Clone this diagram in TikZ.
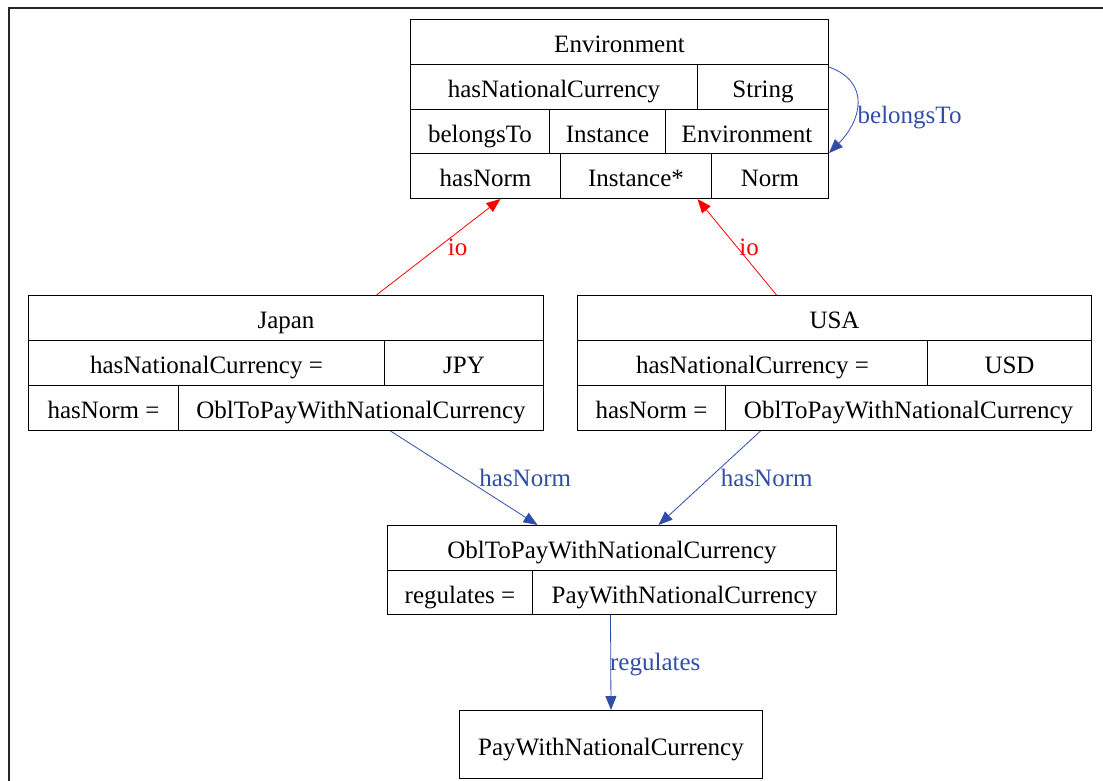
\documentclass[tikz,border=0pt]{standalone}
\usepackage{fontspec}
\setmainfont{Liberation Serif}
\usetikzlibrary{arrows.meta}
\definecolor{edgeblue}{RGB}{48,78,168}
\tikzset{
  cell/.style={draw, line width=1pt, rectangle, inner sep=0pt, anchor=north west,
    minimum height=#1, text height=22pt, text depth=1pt, font=\fontsize{25}{30}\selectfont},
  cell/.default=45pt,
  lbl/.style={font=\fontsize{25}{30}\selectfont, inner sep=1pt},
  ioedge/.style={red, line width=0.8pt, -{Triangle[length=14pt,width=11pt]}},
  reledge/.style={edgeblue, line width=0.8pt, -{Triangle[length=14pt,width=11pt]}}
}
\begin{document}
\begin{tikzpicture}[x=1pt,y=-1pt]
\useasboundingbox (0,0) rectangle (1103,780);
% Rahmen
\draw[line width=2pt, black!85] (9,8) rectangle (1120,800);
% Environment
\node[cell, minimum width=418pt] (envTitle) at (410,19) {Environment};
\node[cell, minimum width=287pt] (envCurKey) at (410,64) {hasNationalCurrency};
\node[cell, minimum width=131pt] (envCurType) at (697,64) {String};
\node[cell=44pt, minimum width=139pt] (envBelKey) at (410,109) {belongsTo};
\node[cell=44pt, minimum width=116pt] (envBelKind) at (549,109) {Instance};
\node[cell=44pt, minimum width=163pt] (envBelType) at (665,109) {Environment};
\node[cell, minimum width=150pt] (envNormKey) at (410,153) {hasNorm};
\node[cell, minimum width=151pt] (envNormKind) at (560,153) {Instance*};
\node[cell, minimum width=117pt] (envNormType) at (711,153) {Norm};
% Japan
\node[cell, minimum width=515pt] (jpTitle) at (28,295) {Japan};
\node[cell, minimum width=356pt] (jpCurKey) at (28,340) {hasNationalCurrency =};
\node[cell, minimum width=159pt] (jpCurVal) at (384,340) {JPY};
\node[cell, minimum width=150pt] (jpNormKey) at (28,385) {hasNorm =};
\node[cell, minimum width=365pt] (jpNormVal) at (178,385) {OblToPayWithNationalCurrency};
% USA
\node[cell, minimum width=514pt] (usTitle) at (577,295) {USA};
\node[cell, minimum width=350pt] (usCurKey) at (577,340) {hasNationalCurrency =};
\node[cell, minimum width=164pt] (usCurVal) at (927,340) {USD};
\node[cell, minimum width=148pt] (usNormKey) at (577,385) {hasNorm =};
\node[cell, minimum width=366pt] (usNormVal) at (725,385) {OblToPayWithNationalCurrency};
% Norm
\node[cell, minimum width=449pt] (oblTitle) at (387,525) {OblToPayWithNationalCurrency};
\node[cell=44pt, minimum width=145pt] (oblRegKey) at (387,570) {regulates =};
\node[cell=44pt, minimum width=304pt] (oblRegVal) at (532,570) {PayWithNationalCurrency};
% Handlung
\node[cell=68pt, minimum width=303pt] (pay) at (459,710) {PayWithNationalCurrency};
% Pfeile
\draw[ioedge] ([xshift=90.5pt]jpTitle.north) -- ([xshift=15pt]envNormKey.south)
  node[lbl, pos=0.5, right=8pt] {io};
\draw[ioedge] ([xshift=-58pt]usTitle.north) -- ([xshift=61.5pt]envNormKind.south)
  node[lbl, pos=0.5, anchor=west, xshift=1pt] {io};
\draw[reledge] ([xshift=29.5pt]jpNormVal.south) -- ([xshift=-74.5pt]oblTitle.north)
  node[lbl, pos=0.5, right=14pt] {hasNorm};
\draw[reledge] ([xshift=-148pt]usNormVal.south) -- ([xshift=46.5pt]oblTitle.north)
  node[lbl, pos=0.5, right=10pt] {hasNorm};
\draw[reledge] ([xshift=-74pt]oblRegVal.south) -- (pay.north)
  node[lbl, pos=0.52, anchor=west, xshift=-2pt] {regulates};
\draw[reledge] ([yshift=-3pt]envCurType.north east) to[out=-20, in=45, looseness=1.35]
  node[lbl, pos=0.55, anchor=west, xshift=0pt, yshift=-9pt] {belongsTo} ([yshift=1pt]envBelType.south east);
\end{tikzpicture}
\end{document}
